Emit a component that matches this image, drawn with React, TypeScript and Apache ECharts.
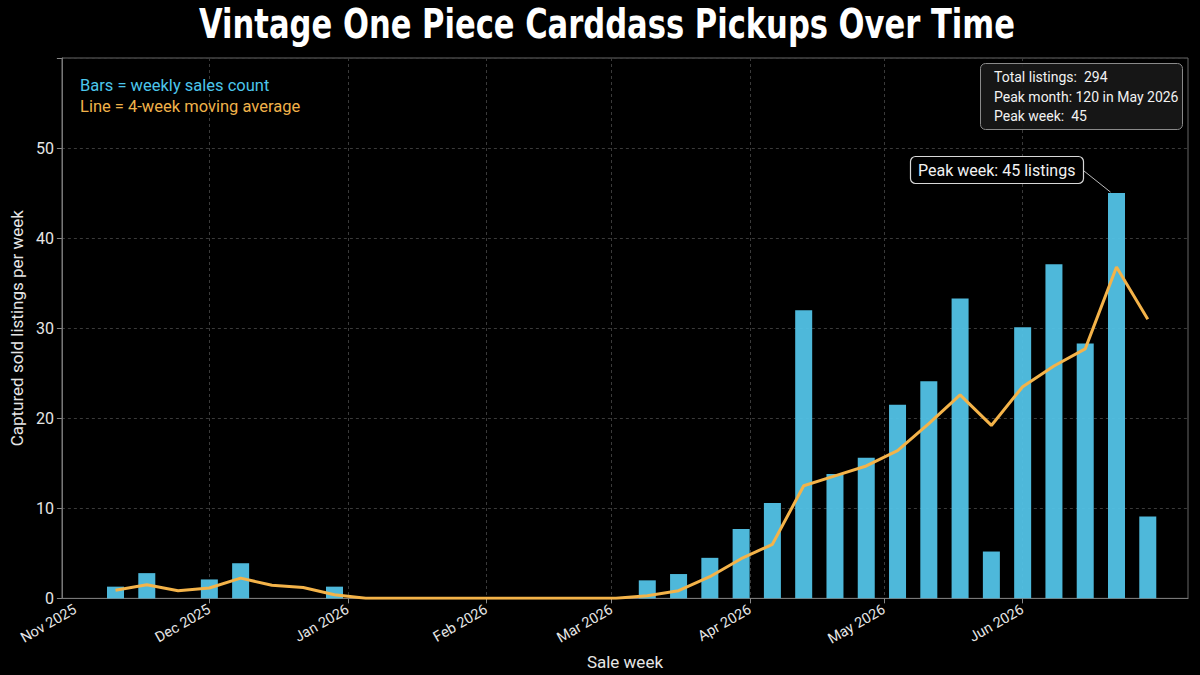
import React, { useEffect, useRef } from "react";
import * as echarts from "echarts";

// Weekly buckets (week starting Monday)
const weekStarts = [
  "2025-11-10", "2025-11-17", "2025-11-24", "2025-12-01", "2025-12-08", "2025-12-15",
  "2025-12-22", "2025-12-29", "2026-01-05", "2026-01-12", "2026-01-19", "2026-01-26",
  "2026-02-02", "2026-02-09", "2026-02-16", "2026-02-23", "2026-03-02", "2026-03-09",
  "2026-03-16", "2026-03-23", "2026-03-30", "2026-04-06", "2026-04-13", "2026-04-20",
  "2026-04-27", "2026-05-04", "2026-05-11", "2026-05-18", "2026-05-25", "2026-06-01",
  "2026-06-08", "2026-06-15", "2026-06-22", "2026-06-29",
];

// Bars: weekly sales count
const weeklySales = [
  1.3, 2.8, 0, 2.1, 3.9, 0,
  0, 1.3, 0, 0, 0, 0,
  0, 0, 0, 0, 0, 2.0,
  2.7, 4.5, 7.7, 10.6, 32, 13.8,
  15.6, 21.5, 24.1, 33.3, 5.2, 30.1,
  37.1, 28.3, 45, 9.1,
];

// Line: 4-week moving average
const movingAverage = [
  0.9, 1.5, 0.85, 1.15, 2.25, 1.45,
  1.2, 0.4, 0, 0, 0, 0,
  0, 0, 0, 0, 0, 0.3,
  0.85, 2.4, 4.4, 6.0, 12.5, 13.6,
  14.7, 16.4, 19.4, 22.6, 19.2, 23.5,
  25.8, 27.7, 36.8, 31.0,
];

const monthLabels = [
  "2025-11-01", "2025-12-01", "2026-01-01", "2026-02-01",
  "2026-03-01", "2026-04-01", "2026-05-01", "2026-06-01",
];
const monthTicks = monthLabels.slice(1);
const xRange = ["2025-10-29", "2026-07-08"];

const yTicks = [0, 10, 20, 30, 40, 50];

const summaryLines = ["Total listings:  294", "Peak month: 120 in May 2026", "Peak week:  45"];
const titleText = "Vintage One Piece Carddass Pickups Over Time";
const legendBars = "Bars = weekly sales count";
const legendLine = "Line = 4-week moving average";
const peakLabel = "Peak week: 45 listings";

const MONTHS = ["Jan", "Feb", "Mar", "Apr", "May", "Jun", "Jul", "Aug", "Sep", "Oct", "Nov", "Dec"];

const FONT = "Roboto, 'Noto Sans', sans-serif";
const BAR_COLOR = "#52C2E6";
const LINE_COLOR = "#F4B349";

const toTs = (s: string) => {
  const [y, m, d] = s.split("-").map(Number);
  return Date.UTC(y, m - 1, d);
};
const fmtMonth = (v: number) => {
  const dt = new Date(v);
  return `${MONTHS[dt.getUTCMonth()]} ${dt.getUTCFullYear()}`;
};

export default function App() {
  const ref = useRef<HTMLDivElement>(null);

  useEffect(() => {
    if (!ref.current) return;
    const chart = echarts.init(ref.current, null, { renderer: "svg" });
    const option: any = {
      animation: false,
      backgroundColor: "#000000",
      grid: {
        left: 59,
        right: 12,
        top: 58,
        bottom: 75,
        show: true,
        borderColor: "#666",
        borderWidth: 1,
        backgroundColor: "transparent",
      },
      xAxis: {
        type: "value",
        min: toTs(xRange[0]),
        max: toTs(xRange[1]),
        axisLine: { show: true, onZero: false, lineStyle: { color: "#777", width: 1 } },
        axisTick: {
          show: true,
          length: 5,
          lineStyle: { color: "#888" },
          customValues: monthTicks.map(toTs),
        },
        axisLabel: {
          rotate: 30,
          color: "#e6e6e6",
          fontSize: 14.5,
          fontFamily: FONT,
          margin: 10,
          customValues: monthLabels.map(toTs),
          formatter: (v: number) => fmtMonth(v),
        },
        splitLine: { show: true, lineStyle: { color: "#3a3a3a", type: [3, 3], width: 1 } },
        name: "Sale week",
        nameLocation: "middle",
        nameGap: 54,
        nameTextStyle: { color: "#e6e6e6", fontSize: 17, fontFamily: FONT },
      },
      yAxis: {
        type: "value",
        min: 0,
        max: 60,
        interval: 10,
        axisLine: { show: true, lineStyle: { color: "#777", width: 1 } },
        axisTick: { show: true, length: 5, lineStyle: { color: "#888" } },
        axisLabel: {
          color: "#e6e6e6",
          fontSize: 16,
          fontFamily: FONT,
          margin: 8,
          formatter: (v: number) => (yTicks.indexOf(v) >= 0 ? String(v) : ""),
        },
        splitLine: { show: true, lineStyle: { color: "#3a3a3a", type: [3, 3], width: 1 } },
        name: "Captured sold listings per week",
        nameLocation: "middle",
        nameGap: 34,
        nameTextStyle: { color: "#e6e6e6", fontSize: 17, fontFamily: FONT },
      },
      series: [
        {
          type: "bar",
          barWidth: 17,
          itemStyle: { color: BAR_COLOR, opacity: 0.95 },
          data: weekStarts.map((d, i) => [toTs(d), weeklySales[i]]),
          z: 2,
        },
        {
          type: "line",
          symbol: "none",
          lineStyle: { color: LINE_COLOR, width: 3 },
          data: weekStarts.map((d, i) => [toTs(d), movingAverage[i]]),
          z: 3,
        },
      ],
    };
    chart.setOption(option);

    const peakIdx = weeklySales.indexOf(Math.max(...weeklySales));
    let px = 1114;
    let py = 194;
    try {
      const pt = chart.convertToPixel({ seriesIndex: 0 }, [toTs(weekStarts[peakIdx]), weeklySales[peakIdx]]) as number[];
      if (pt && isFinite(pt[0]) && isFinite(pt[1])) {
        px = pt[0];
        py = pt[1];
      }
    } catch (e) {
      /* keep defaults */
    }

    chart.setOption({
      graphic: [
        {
          type: "text",
          x: 607,
          y: 25,
          scaleX: 0.85,
          style: {
            text: titleText,
            fill: "#ffffff",
            font: "bold 40px 'DejaVu Sans Condensed', 'DejaVu Sans', sans-serif",
            textAlign: "center",
            textVerticalAlign: "middle",
          },
        },
        {
          type: "text",
          x: 80,
          y: 85,
          style: { text: legendBars, fill: "#4CC6EC", font: `16.5px ${FONT}`, textVerticalAlign: "middle" },
        },
        {
          type: "text",
          x: 80,
          y: 106,
          style: { text: legendLine, fill: "#F0B24A", font: `16.5px ${FONT}`, textVerticalAlign: "middle" },
        },
        {
          type: "rect",
          shape: { x: 980.5, y: 63.5, width: 202, height: 66, r: 5 },
          style: { fill: "rgba(24,24,24,0.9)", stroke: "#8a8a8a", lineWidth: 1 },
          z: 10,
        },
        ...summaryLines.map((t, i) => ({
          type: "text",
          x: 994,
          y: 77 + i * 19.5,
          z: 11,
          style: { text: t, fill: "#f2f2f2", font: `14px ${FONT}`, textVerticalAlign: "middle" },
        })),
        {
          type: "line",
          shape: { x1: 1084, y1: 171, x2: px - 6, y2: py - 1 },
          style: { stroke: "#bbbbbb", lineWidth: 1 },
          z: 10,
        },
        {
          type: "rect",
          shape: { x: 910.5, y: 156.5, width: 173, height: 27, r: 5 },
          style: { fill: "#000000", stroke: "#d8d8d8", lineWidth: 1.2 },
          z: 11,
        },
        {
          type: "text",
          x: 918,
          y: 170,
          z: 12,
          style: { text: peakLabel, fill: "#f2f2f2", font: `16px ${FONT}`, textVerticalAlign: "middle" },
        },
      ],
    });

    return () => chart.dispose();
  }, []);

  return (
    <div
      ref={ref}
      style={{ position: "fixed", left: 0, top: 0, width: 1200, height: 675, background: "#000" }}
    />
  );
}
